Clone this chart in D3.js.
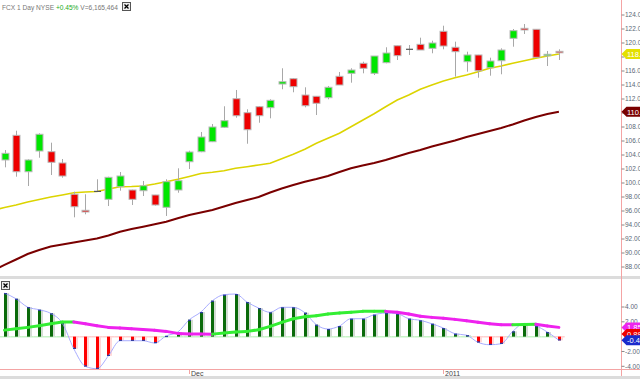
<!DOCTYPE html>
<html><head><meta charset="utf-8">
<script src="https://cdn.jsdelivr.net/npm/d3@7"></script>
<style>html,body{margin:0;padding:0;background:#fff;overflow:hidden}svg{display:block;font-family:"Liberation Sans",Arial,sans-serif}</style>
</head><body>
<svg id="c" width="640" height="379"></svg>
<script>
// ---- data ----
const candleOpen  = [103.29,106.81,101.61,104.57,104.47,102.86,98.39,96.1,98.8,97.67,99.47,99.0,98.9,98.29,96.53,99.0,103.04,104.47,105.9,107.96,112.04,110.04,110.9,110.76,114.14,114.9,112.57,112.39,112.19,115.24,115.67,117.1,115.67,117.19,119.61,119.1,119.81,119.24,121.67,119.39,117.33,118.29,116.47,117.47,120.67,122.1,121.96,118.19,118.81];
const candleHigh  = [104.71,107.47,103.39,107.1,105.76,103.43,98.76,98.39,100.53,100.9,101.57,99.05,100.29,98.3,100.53,102.1,104.61,107.29,108.43,110.96,113.29,110.53,111.0,111.96,116.39,115.0,113.67,112.4,113.86,115.86,116.39,117.33,118.14,119.39,119.62,119.71,120.76,120.33,122.47,120.19,118.76,118.3,117.9,119.24,122.0,122.71,121.97,118.86,119.1];
const candleLow   = [102.24,100.9,99.57,103.61,101.14,100.76,95.1,95.53,98.71,96.71,98.9,96.86,98.14,96.76,95.29,98.61,102.0,104.4,105.85,107.9,109.33,105.61,108.61,109.24,113.39,112.96,110.81,109.71,111.96,114.0,114.33,115.67,115.43,117.1,117.57,118.29,119.0,118.53,119.1,115.19,115.9,115.04,115.33,115.53,119.47,121.29,117.96,116.71,117.57];
const candleClose = [104.24,101.61,103.29,106.96,102.96,101.0,96.61,95.86,98.8,100.81,101.0,97.67,99.61,96.86,100.19,100.33,104.43,106.57,108.0,108.9,109.61,107.61,109.61,111.81,114.47,113.76,111.04,111.39,113.67,114.0,116.14,116.39,118.14,118.57,118.19,119.1,119.0,120.0,119.57,118.76,118.29,116.04,117.43,119.0,121.76,121.86,117.96,118.39,118.61];
// moving averages: first value is the day before the first candle
const maFast = [96.1,96.5,96.86,97.29,97.64,98.0,98.29,98.61,98.71,98.79,99.14,99.47,99.5,99.57,99.86,100.19,100.53,100.93,101.36,101.53,101.76,102.1,102.33,102.57,102.81,103.47,104.1,104.81,105.67,106.39,107.1,108.04,108.96,109.89,110.9,111.86,112.57,113.39,114.0,114.57,115.04,115.43,115.9,116.39,116.71,117.1,117.47,117.81,118.14,118.43];
const maSlow = [87.5,88.29,89.07,89.86,90.43,90.93,91.21,91.5,91.79,92.07,92.5,93.04,93.43,93.76,94.1,94.47,94.96,95.43,95.79,96.14,96.64,97.14,97.57,98.0,98.64,99.21,99.71,100.19,100.57,101.0,101.57,102.1,102.5,102.86,103.29,103.79,104.29,104.71,105.21,105.64,106.07,106.57,107.0,107.43,107.86,108.36,108.93,109.43,109.86,110.19];
const histValues = [5.88,5.11,3.99,3.63,3.14,1.84,-1.63,-4.01,-4.33,-2.58,-0.55,-0.55,-0.55,-0.86,0.1,0.62,2.28,3.32,4.85,5.66,5.75,4.67,3.86,3.28,3.96,3.96,3.23,1.61,1.03,1.43,2.42,2.42,2.96,3.18,3.1,2.42,2.2,1.74,1.16,0.4,0.2,-0.77,-1.09,-0.96,0.71,1.79,1.47,0.62,-0.49];
const signalValues = [0.88,1.07,1.25,1.47,1.74,1.97,1.97,1.74,1.47,1.25,1.16,1.07,0.98,0.85,0.71,0.44,0.37,0.35,0.34,0.49,0.62,0.71,0.93,1.39,1.93,2.42,2.69,2.82,3.05,3.18,3.28,3.41,3.41,3.41,3.28,3.05,2.74,2.6,2.47,2.33,2.15,1.93,1.74,1.61,1.6,1.63,1.66,1.45,1.25];
const priceTicks = [124,122,120,118,116,114,112,110,108,106,104,102,100,98,96,94,92,90,88];
const macdTicks = [4,2,-2,-4];
const dateTickIndex = [16,38];
const dateTickLabel = ["Dec","2011"];
const priceBadgeText = ["118.38","110.24"];
const macdBadgeText = ["1.85","0.88","-0.49"];
const macdBadgeValue = [1.25,0.35,-0.49];

// ---- scales ----
const svg = d3.select("#c");
const n = candleOpen.length;
const x = d3.scaleLinear().domain([0, n-1]).range([4.5, 558.9]);
const y = d3.scaleLinear().domain([88,124]).range([267,15]);
const yM = d3.scaleLinear().domain([-4,4]).range([366.3,307]);
const axisX = 621.5;

const defs = svg.append("defs");
defs.append("clipPath").attr("id","cpTop").append("rect").attr("x",0).attr("y",0).attr("width",axisX).attr("height",276);
defs.append("clipPath").attr("id","cpBot").append("rect").attr("x",0).attr("y",280).attr("width",axisX).attr("height",89);

// panel frames
svg.append("rect").attr("x",0).attr("y",276).attr("width",640).attr("height",3).attr("fill","#dcdcdc");
svg.append("rect").attr("x",0).attr("y",376).attr("width",640).attr("height",3).attr("fill","#dcdcdc");
svg.append("line").attr("x1",0).attr("x2",640).attr("y1",369.5).attr("y2",369.5).attr("stroke","#f4a4a4");
svg.append("line").attr("x1",axisX).attr("x2",axisX).attr("y1",0).attr("y2",376).attr("stroke","#f4a4a4");

// ---- top panel ----
const topG = svg.append("g").attr("clip-path","url(#cpTop)");
const lineMA = d3.line().x((d,i)=>x(i-1)).y(d=>y(d));
topG.append("path").datum(maSlow).attr("d",lineMA).attr("fill","none").attr("stroke","#7a0000").attr("stroke-width",2);
topG.append("path").datum(maFast).attr("d",lineMA).attr("fill","none").attr("stroke","#dcd400").attr("stroke-width",1.6);

const idx = d3.range(n);
const cg = topG.append("g");
cg.selectAll("line.w").data(idx).join("line")
  .attr("x1",i=>Math.round(x(i))+0.5).attr("x2",i=>Math.round(x(i))+0.5)
  .attr("y1",i=>y(candleHigh[i])).attr("y2",i=>y(candleLow[i]))
  .attr("stroke","#a8a8a8").attr("stroke-width",1);
const bw = 7;
cg.selectAll("rect.b").data(idx.filter(i=>candleOpen[i]!==candleClose[i])).join("rect")
  .attr("x",i=>Math.round(x(i))-3).attr("width",bw)
  .attr("y",i=>y(Math.max(candleOpen[i],candleClose[i])))
  .attr("height",i=>Math.max(1.5,Math.abs(y(candleOpen[i])-y(candleClose[i]))))
  .attr("fill",i=>candleClose[i]>candleOpen[i]?"#00e600":"#ee0000")
  .attr("stroke","#b8b8b8").attr("stroke-width",1);
cg.selectAll("line.d").data(idx.filter(i=>candleOpen[i]===candleClose[i])).join("line")
  .attr("x1",i=>Math.round(x(i))-3).attr("x2",i=>Math.round(x(i))+4)
  .attr("y1",i=>y(candleClose[i])).attr("y2",i=>y(candleClose[i]))
  .attr("stroke","#555").attr("stroke-width",1.2);

// right price axis
const pa = svg.append("g");
pa.selectAll("line").data(priceTicks).join("line")
  .attr("x1",axisX).attr("x2",axisX+3).attr("y1",d=>y(d)).attr("y2",d=>y(d)).attr("stroke","#888");
pa.selectAll("text").data(priceTicks).join("text")
  .attr("x",axisX+3.5).attr("y",d=>y(d)+2.3).attr("font-size",6.5).attr("fill","#5a6878")
  .text(d=>d.toFixed(2));

function badge(g, yy, fill, txt, tcol){
  const gg = g.append("g");
  gg.append("path").attr("d",`M${axisX},${yy} L${axisX+5},${yy-5} L640,${yy-5} L640,${yy+5} L${axisX+5},${yy+5} Z`).attr("fill",fill);
  gg.append("text").attr("x",axisX+5.5).attr("y",yy+3).attr("font-size",7.5).attr("fill",tcol||"#fff").text(txt);
}
badge(svg, y(maFast[maFast.length-1]), "#e4e000", priceBadgeText[0], "#fff");
badge(svg, y(maSlow[maSlow.length-1]), "#7a0000", priceBadgeText[1], "#fff");

// header
const hd = svg.append("text").attr("x",2).attr("y",9.5).attr("font-size",6.6).attr("fill","#777");
hd.append("tspan").text("FCX 1 Day NYSE ");
hd.append("tspan").attr("fill","#22aa22").text("+0.45%");
hd.append("tspan").text(" V=6,165,464");
const hw = hd.node().getComputedTextLength();
function xbox(bx,by){
  svg.append("rect").attr("x",bx+0.5).attr("y",by+0.5).attr("width",8).attr("height",8).attr("fill","#eee").attr("stroke","#555");
  svg.append("path").attr("d",`M${bx+2.5},${by+2.5}L${bx+6.5},${by+6.5}M${bx+6.5},${by+2.5}L${bx+2.5},${by+6.5}`).attr("stroke","#000").attr("stroke-width",1.3);
}
xbox(Math.round(2+hw+4),2);
xbox(1,281);

// ---- bottom panel ----
const bot = svg.append("g").attr("clip-path","url(#cpBot)");
const y0 = yM(0);
bot.selectAll("line.base").data(idx).join("line")
  .attr("x1",i=>x(i)-5.8).attr("x2",i=>x(i)+5.8).attr("y1",y0).attr("y2",y0)
  .attr("stroke",i=>histValues[i]>=0?"#c8f4c8":"#ffd0d0").attr("stroke-width",1.5);
bot.selectAll("rect.sh").data(idx).join("rect")
  .attr("x",i=>Math.round(x(i))+2).attr("width",2)
  .attr("y",i=>Math.min(yM(histValues[i]),y0)).attr("height",i=>Math.abs(yM(histValues[i])-y0))
  .attr("fill",i=>histValues[i]>=0?"#d4dcd4":"#ffd8d8");
bot.selectAll("rect.h").data(idx).join("rect")
  .attr("x",i=>Math.round(x(i))-1).attr("width",3)
  .attr("y",i=>Math.min(yM(histValues[i]),y0)).attr("height",i=>Math.abs(yM(histValues[i])-y0))
  .attr("fill",i=>histValues[i]>=0?"#0a6a0a":"#ff0000");
bot.append("path").datum(histValues)
  .attr("d",d3.line().x((d,i)=>x(i)).y(d=>yM(d)).curve(d3.curveMonotoneX))
  .attr("fill","none").attr("stroke","#a8acff").attr("stroke-width",1);
bot.selectAll("rect.cap").data(idx).join("rect")
  .attr("x",i=>Math.round(x(i))-1).attr("width",3)
  .attr("y",i=>yM(histValues[i])-(histValues[i]>=0?0:1)).attr("height",1.2)
  .attr("fill","#2a3aa0");
bot.selectAll("line.sig").data(d3.range(n-1)).join("line")
  .attr("x1",i=>x(i)).attr("x2",i=>x(i+1))
  .attr("y1",i=>yM(signalValues[i])).attr("y2",i=>yM(signalValues[i+1]))
  .attr("stroke",i=>signalValues[i+1]>=signalValues[i]?"#33ee33":"#ee22ee")
  .attr("stroke-width",3).attr("stroke-linecap","round");

// macd axis
const mAx = svg.append("g");
mAx.selectAll("line").data(macdTicks).join("line")
  .attr("x1",axisX).attr("x2",axisX+3).attr("y1",d=>yM(d)).attr("y2",d=>yM(d)).attr("stroke","#888");
mAx.selectAll("text").data(macdTicks).join("text")
  .attr("x",axisX+3.5).attr("y",d=>yM(d)+2.3).attr("font-size",6.5).attr("fill","#5a6878")
  .text(d=>d.toFixed(2));
badge(svg, yM(macdBadgeValue[0]), "#ee22ee", macdBadgeText[0]);
badge(svg, yM(macdBadgeValue[1]), "#ee0000", macdBadgeText[1]);
badge(svg, yM(macdBadgeValue[2]), "#1a2acc", macdBadgeText[2]);

// date axis
const da = svg.append("g");
da.selectAll("line").data(dateTickIndex).join("line")
  .attr("x1",d=>Math.round(x(d))+0.5).attr("x2",d=>Math.round(x(d))+0.5).attr("y1",369.5).attr("y2",374)
  .attr("stroke","#f4a4a4");
da.selectAll("text").data(dateTickIndex).join("text")
  .attr("x",d=>Math.round(x(d))+2).attr("y",376).attr("font-size",7).attr("fill","#444")
  .text((d,i)=>dateTickLabel[i]);
</script>
</body></html>
